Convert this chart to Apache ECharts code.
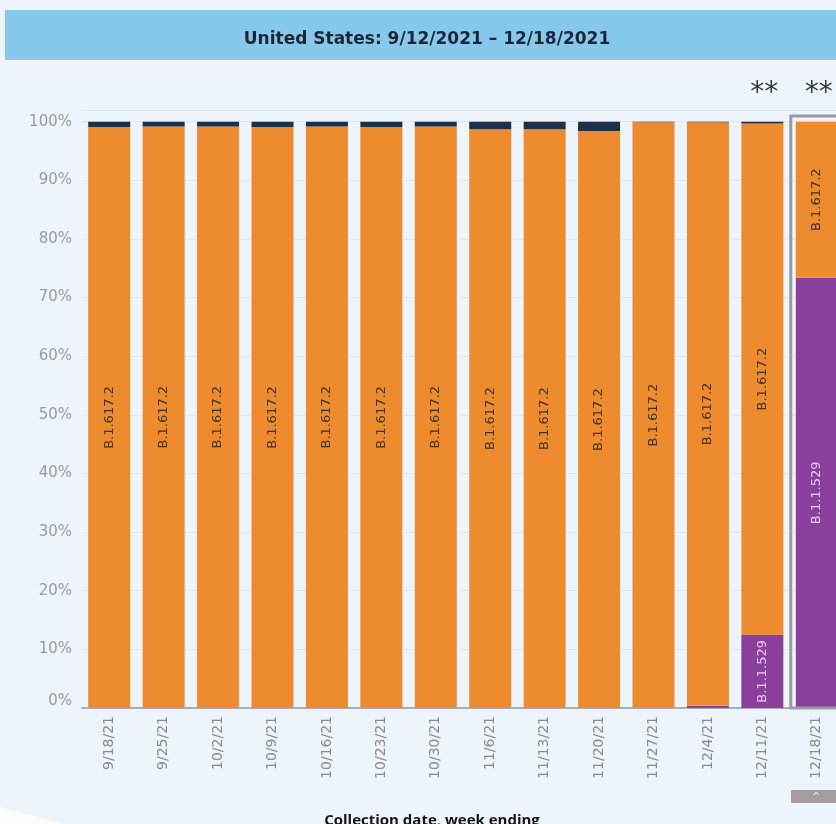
<!DOCTYPE html>
<html>
<head>
<meta charset="utf-8">
<script src="https://cdn.jsdelivr.net/npm/echarts@6/dist/echarts.min.js"></script>
<style>
html,body{margin:0;padding:0;background:#eef4fb;}
#chart{width:836px;height:824px;}
</style>
</head>
<body>
<div id="chart"></div>
<script>
const titleText = 'United States: 9/12/2021 – 12/18/2021';
const xAxisTitle = 'Collection date, week ending';
const categories = ['9/18/21','9/25/21','10/2/21','10/9/21','10/16/21','10/23/21','10/30/21','11/6/21','11/13/21','11/20/21','11/27/21','12/4/21','12/11/21','12/18/21'];
const omicron = [0,0,0,0,0,0,0,0,0,0,0,0.4,12.5,73.4];
const delta = [99.1,99.2,99.2,99.1,99.2,99.1,99.2,98.7,98.7,98.4,99.9,99.5,87.2,26.6];
const other = [0.9,0.8,0.8,0.9,0.8,0.9,0.8,1.3,1.3,1.6,0.1,0.1,0.3,0];
const omicronLabelled = ['12/11/21','12/18/21'];
const flagged = ['12/11/21','12/18/21'];
const flagText = '**';
const highlighted = ['12/18/21'];
const yTicks = [0,10,20,30,40,50,60,70,80,90,100];

const chart = echarts.init(document.getElementById('chart'));
const Y_MAX = 102;
const BAR_W = 42;

chart.setOption({
  backgroundColor: '#eef4fb',
  animation: false,
  graphic: [
    { type: 'circle', shape: { cx: -238, cy: 1830, r: 1050 }, style: { fill: '#fafcfe' }, z: -20, silent: true },
    { type: 'rect', shape: { x: 5, y: 10, width: 840, height: 50 }, style: { fill: '#86c9ea' }, z: -5, silent: true },
    { type: 'rect', shape: { x: 791, y: 790, width: 50, height: 13 }, style: { fill: '#a39d9e' }, silent: true },
    { type: 'text', x: 812, y: 792, style: { text: '^', fill: '#e8e8e8', font: '10px DejaVu Sans' }, silent: true }
  ],
  title: [
    { text: titleText, left: 422, top: 26, textAlign: 'center',
      textStyle: { fontFamily: 'DejaVu Sans', fontWeight: 'bold', fontSize: 17, color: '#1c2636' } },
    { text: xAxisTitle, left: 427, top: 808, textAlign: 'center',
      textStyle: { fontFamily: 'Open Sans', fontWeight: 'bold', fontSize: 15, color: '#151515' } }
  ],
  grid: { left: 82, right: -8, top: 110, bottom: 116, containLabel: false, outerBoundsMode: 'none' },
  xAxis: {
    type: 'category',
    data: categories,
    axisLine: { show: true, lineStyle: { color: '#a7adb4', width: 2 } },
    axisTick: { show: false },
    axisLabel: { rotate: 90, color: '#8a8a8a', fontSize: 14, fontFamily: 'DejaVu Sans', margin: 8 }
  },
  yAxis: {
    type: 'value', min: 0, max: Y_MAX, interval: 10,
    axisLine: { show: false }, axisTick: { show: false },
    splitLine: { show: true, lineStyle: { color: '#e1e7ee', width: 1 } },
    axisLabel: {
      color: '#9a9a9a', fontSize: 15, fontFamily: 'DejaVu Sans', margin: 10,
      showMaxLabel: false,
      formatter: v => (yTicks.indexOf(v) < 0 ? '' : (v === 0 ? '{z|' + v + '%}' : v + '%')),
      rich: { z: { color: '#9a9a9a', fontSize: 15, fontFamily: 'DejaVu Sans', padding: [0, 0, 14, 0] } }
    }
  },
  series: [
    {
      name: 'B.1.1.529', type: 'bar', stack: 'v', barWidth: BAR_W,
      itemStyle: { color: '#8b3f9c' },
      label: { show: true, position: 'inside', rotate: 90, color: '#e9cdef', fontSize: 13, fontFamily: 'DejaVu Sans',
        formatter: p => omicronLabelled.indexOf(p.name) >= 0 ? p.seriesName : '' },
      data: omicron
    },
    {
      name: 'B.1.617.2', type: 'bar', stack: 'v', barWidth: BAR_W,
      itemStyle: { color: '#ee8b2e' },
      label: { show: true, position: 'inside', rotate: 90, color: '#3a3530', fontSize: 13, fontFamily: 'DejaVu Sans',
        formatter: p => p.seriesName },
      data: delta
    },
    {
      name: 'Other', type: 'bar', stack: 'v', barWidth: BAR_W,
      itemStyle: { color: '#1c3148' },
      data: other
    },
    {
      name: 'highlight', type: 'custom', silent: true, z: 5,
      data: highlighted.map(c => [categories.indexOf(c)]),
      encode: { x: 0 },
      renderItem: (params, api) => {
        const idx = api.value(0);
        const bottom = api.coord([idx, 0]);
        const top = api.coord([idx, Y_MAX]);
        const left = bottom[0] - BAR_W / 2 - 5;
        return { type: 'rect', shape: { x: left, y: top[1] + 6, width: 70, height: bottom[1] - top[1] - 6 },
          style: { fill: 'none', stroke: '#999a9c', lineWidth: 3 } };
      }
    },
    {
      name: 'flags', type: 'custom', silent: true, z: 6,
      data: flagged.map(c => [categories.indexOf(c)]),
      encode: { x: 0 },
      renderItem: (params, api) => {
        const idx = api.value(0);
        const top = api.coord([idx, Y_MAX]);
        return { type: 'text', x: top[0] + 2, y: top[1] - 16,
          style: { text: flagText, fill: '#3a3a3a', font: '28px DejaVu Sans', align: 'center', verticalAlign: 'middle' } };
      }
    }
  ]
});
</script>
</body>
</html>
